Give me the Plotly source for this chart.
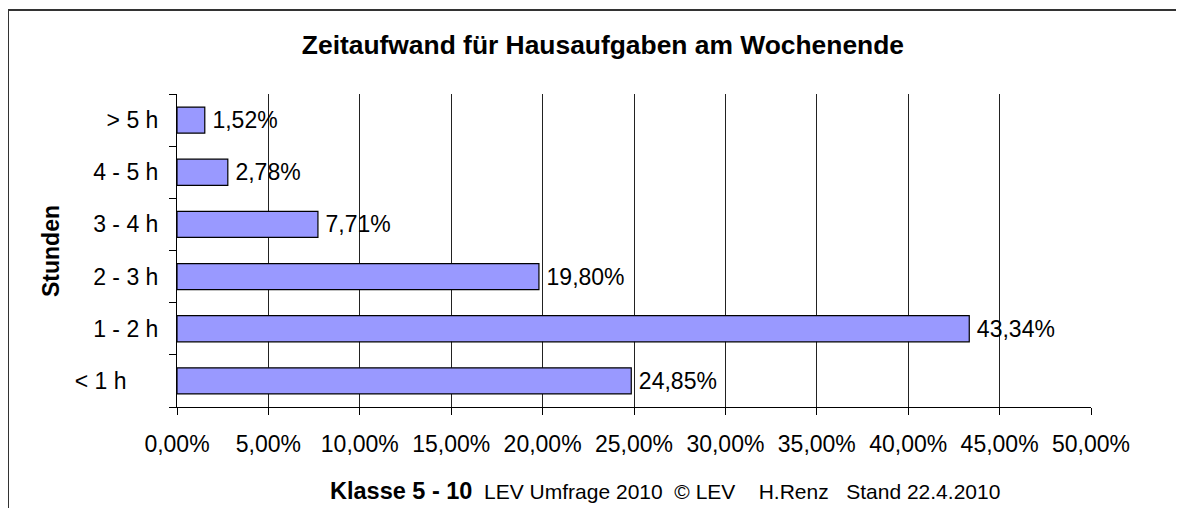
import plotly.graph_objects as go

# Daten (von unten nach oben, wie Plotly Kategorien stapelt)
stunden = ["<\u00a01\u00a0h" + "\u00a0" * 5, "1 - 2 h", "2 - 3 h", "3 - 4 h", "4 - 5 h", "> 5 h"]
anteile = [24.85, 43.34, 19.80, 7.71, 2.78, 1.52]
x_ticks = [0, 5, 10, 15, 20, 25, 30, 35, 40, 45, 50]
x_ticktext = [f"{v:.2f}%".replace(".", ",") for v in x_ticks]

FONT = "Liberation Sans, Arial, sans-serif"

fig = go.Figure(go.Bar(
    x=anteile,
    y=stunden,
    orientation="h",
    width=0.5,
    marker=dict(color="#9999FF", line=dict(color="#000000", width=1.2)),
    texttemplate="\u2009%{x:.2f}%",
    textposition="outside",
    cliponaxis=False,
    textfont=dict(family=FONT, size=23, color="#000000"),
    hoverinfo="skip",
))

# Rahmen (links und oben sichtbar)
rahmen = dict(type="line", xref="paper", yref="paper",
              line=dict(color="#333333", width=2))
fig.add_shape(**rahmen, x0=-0.1849, x1=-0.1849, y0=1.2684, y1=-0.4)
fig.add_shape(**rahmen, x0=-0.1849, x1=1.3, y0=1.2684, y1=1.2684)

fig.add_annotation(
    text="<b>Stunden</b>", textangle=-90,
    xref="paper", yref="paper", x=-0.138, y=0.498,
    xanchor="center", yanchor="middle", showarrow=False,
    font=dict(family=FONT, size=23, color="#000000"),
)
fig.add_annotation(
    text="<span style='font-size:23.5px'><b>Klasse 5 - 10</b></span>\u00a0\u00a0LEV Umfrage 2010\u00a0\u00a0© LEV\u00a0\u00a0\u00a0\u00a0H.Renz\u00a0\u00a0\u00a0Stand 22.4.2010",
    xref="paper", yref="paper", x=0.534, y=-0.268,
    xanchor="center", yanchor="middle", showarrow=False,
    font=dict(family=FONT, size=21, color="#000000"),
)

fig.update_layout(
    width=1176,
    height=500,
    margin=dict(l=169, r=93, t=86, b=101),
    paper_bgcolor="white",
    plot_bgcolor="white",
    separators=",.",
    showlegend=False,
    font=dict(family=FONT, size=23, color="#000000"),
    title=dict(
        text="<b>Zeitaufwand für Hausaufgaben am Wochenende</b>",
        x=0.466, xref="paper", xanchor="center",
        y=1 - 37 / 500, yanchor="middle",
        font=dict(family=FONT, size=26.4, color="#000000"),
    ),
    xaxis=dict(
        range=[0, 50],
        tickvals=x_ticks,
        ticktext=x_ticktext,
        showgrid=True,
        gridcolor="#222222",
        gridwidth=1,
        showline=True,
        linecolor="#000000",
        linewidth=1,
        ticks="outside",
        ticklen=7,
        tickcolor="#000000",
        ticklabelstandoff=9,
        zeroline=False,
        fixedrange=True,
    ),
    yaxis=dict(
        type="category",
        showgrid=False,
        showline=True,
        linecolor="#000000",
        linewidth=1,
        ticks="outside",
        tickson="boundaries",
        ticklen=7,
        tickcolor="#000000",
        ticklabelstandoff=13,
        zeroline=False,
        fixedrange=True,
    ),
)

fig.write_html("out.html")
